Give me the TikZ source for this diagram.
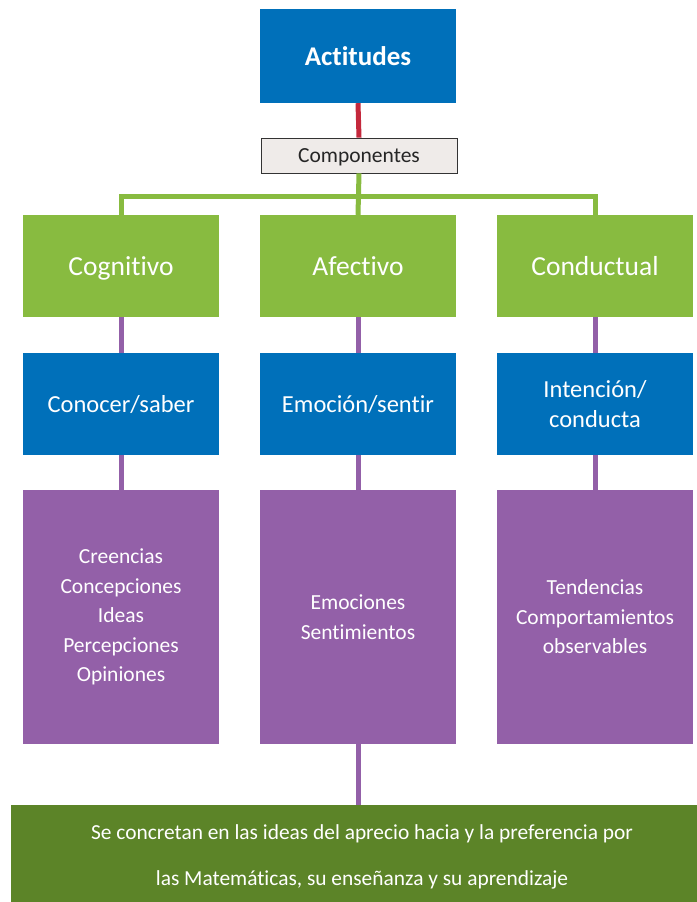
\documentclass[tikz,border=0pt]{standalone}
\usepackage{fontspec}
\setmainfont{Carlito}[Ligatures=NoCommon]
\definecolor{cblue}{HTML}{0070BA}
\definecolor{cgreen}{HTML}{88BB40}
\definecolor{cpurple}{HTML}{9360A8}
\definecolor{cdgreen}{HTML}{5C8428}
\definecolor{cred}{HTML}{C4283C}
\definecolor{cgrey}{HTML}{EFEBE9}
\begin{document}
\begin{tikzpicture}[x=1pt,y=-1pt,
  base/.style={inner sep=0pt, align=center, text=white, minimum width=196pt},
  greenbox/.style={base, fill=cgreen, minimum height=102pt, text depth=0pt, font=\fontsize{27.5}{30}\selectfont},
  bluebox/.style={base, fill=cblue, minimum height=102pt, font=\fontsize{24.5}{30}\selectfont},
  purplebox/.style={base, fill=cpurple, minimum height=254pt, font=\fontsize{21.5}{29.5}\selectfont},
  glink/.style={draw=cgreen, line width=5pt},
  plink/.style={draw=cpurple, line width=5pt},
  rlink/.style={draw=cred, line width=5pt}]
\useasboundingbox (0,0) rectangle (696,902);
\fill[white] (0,0) rectangle (696,902);
% nodes
\node[base, fill=cblue, minimum height=94pt, font=\fontsize{27}{30}\selectfont\bfseries] (act) at (358,56) {Actitudes};
\node[base, fill=cgrey, draw=black!80, line width=0.8pt, text=black!85, minimum height=35pt, text depth=0pt, font=\fontsize{21.5}{24}\selectfont] (comp) at (359,155.5) {Componentes};
\node[greenbox] (cog) at (121,266) {Cognitivo};
\node[greenbox] (afe) at (358,266) {Afectivo};
\node[greenbox] (con) at (595,266) {Conductual};
\node[bluebox, text depth=0pt] (cogb) at (121,404) {Conocer/saber};
\node[bluebox, text depth=0pt] (afeb) at (358,404) {Emoción/sentir};
\node[bluebox] (conb) at (595,404) {Intención/\\conducta};
\node[purplebox] (cogp) at (121,617) {Creencias\\Concepciones\\Ideas\\Percepciones\\Opiniones};
\node[purplebox] (afep) at (358,617) {Emociones\\Sentimientos};
\node[purplebox] (conp) at (595,617) {Tendencias\\Comportamientos\\observables};
\node[inner sep=0pt, fill=cdgreen, minimum width=700pt, minimum height=100pt] (bot) at (361,855) {};
\node[inner sep=0pt, text=white, align=center, font=\fontsize{21.4}{46}\selectfont] (bottext) at (362,857) {Se concretan en las ideas del aprecio hacia y la preferencia por\\las Matemáticas, su enseñanza y su aprendizaje};
% connectors
\coordinate (bus) at (358,196);
\draw[rlink] (act.south) -- (comp.north);
\draw[glink] (comp.south) -- (afe.north);
\draw[glink] (cog.north) |- (bus) -| (con.north);
\draw[plink] (cog.south) -- (cogb.north);
\draw[plink] (afe.south) -- (afeb.north);
\draw[plink] (con.south) -- (conb.north);
\draw[plink] (cogb.south) -- (cogp.north);
\draw[plink] (afeb.south) -- (afep.north);
\draw[plink] (conb.south) -- (conp.north);
\draw[plink] (afep.south) -- (afep.south |- bot.north);
\end{tikzpicture}
\end{document}
